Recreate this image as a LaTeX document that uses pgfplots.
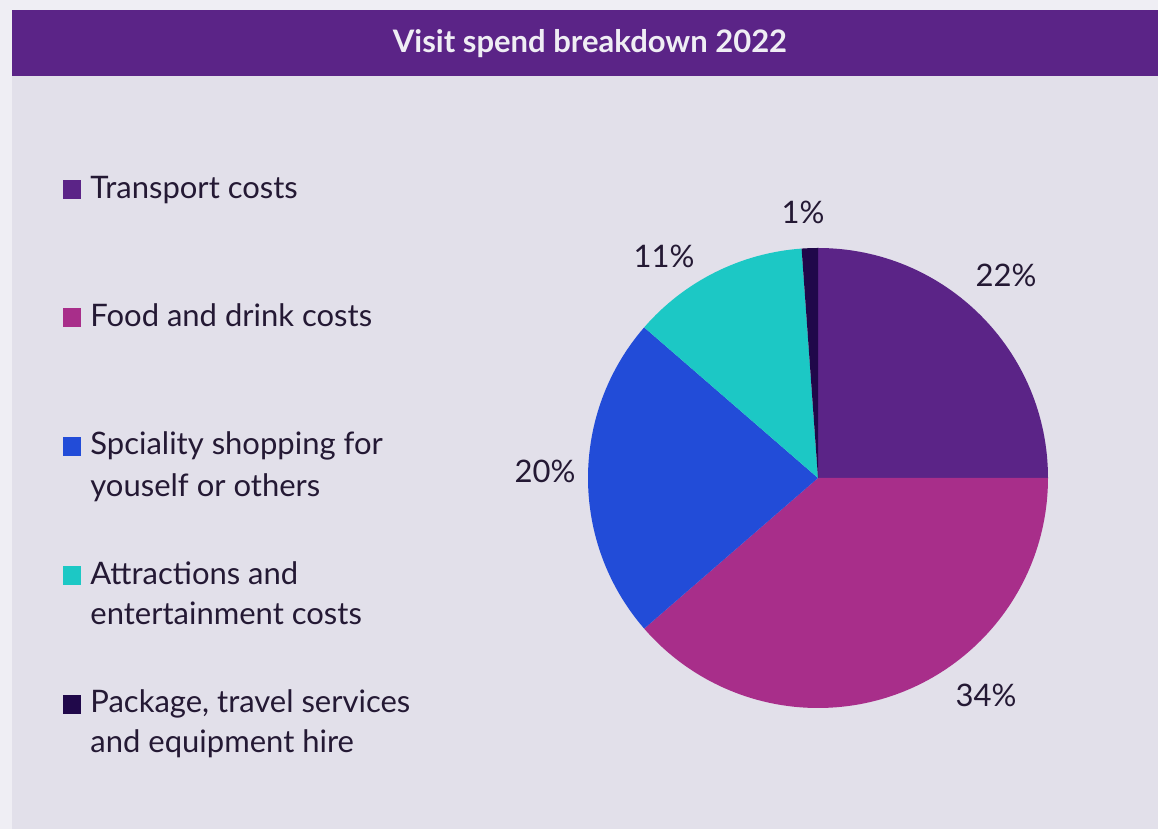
\documentclass[border=0pt]{standalone}
\usepackage{fontspec}
\setmainfont{Lato}
\usepackage{pgfplots}
\usepackage{pgfplotstable}
\pgfplotsset{compat=1.18}

\definecolor{outer}{HTML}{EFEEF4}
\definecolor{panel}{HTML}{E2E0EA}
\definecolor{titlebar}{HTML}{5B2487}
\definecolor{txt}{HTML}{241934}
\definecolor{transport}{HTML}{5B2487}
\definecolor{food}{HTML}{A82E8A}
\definecolor{shop}{HTML}{224CD8}
\definecolor{attract}{HTML}{1CC8C5}
\definecolor{package}{HTML}{20084A}

% shares as shown on the labels
\pgfplotstableread{
share col
22 transport
34 food
20 shop
11 attract
1 package
}\piedata

\newcommand\lab{\fontsize{15.5}{18}\selectfont\color{txt}}

\begin{document}
\begin{tikzpicture}
\begin{axis}[
    x=0.5pt, y=0.5pt,
    xmin=0, xmax=1158, ymin=0, ymax=829,
    scale only axis,
    axis lines=none,
    clip=false,
]
% background
\fill[outer] (axis cs:0,0) rectangle (axis cs:1158,829);
\fill[panel] (axis cs:12,0) rectangle (axis cs:1158,819);
\fill[titlebar] (axis cs:12,753) rectangle (axis cs:1158,819);
\node[anchor=base, inner sep=0, text=outer, font=\fontsize{15.5}{18}\selectfont\bfseries]
    at (axis cs:590,776) {Visit spend breakdown 2022};

% pie slices, clockwise from the top
\global\def\piecum{0}
\global\def\pietot{0}
\pgfplotsinvokeforeach{0,...,4}{
    \pgfplotstablegetelem{#1}{share}\of\piedata
    \pgfmathsetmacro\pietmp{\pietot+\pgfplotsretval}
    \global\let\pietot\pietmp
}
\pgfplotsinvokeforeach{0,...,4}{
    \pgfplotstablegetelem{#1}{share}\of\piedata \let\pieval\pgfplotsretval
    \pgfplotstablegetelem{#1}{col}\of\piedata \let\piecol\pgfplotsretval
    \pgfmathsetmacro\piea{90-360*(\piecum/\pietot)}
    \pgfmathsetmacro\pieb{90-360*((\piecum+\pieval)/\pietot)}
    \edef\temp{\noexpand\fill[\piecol] (axis cs:818,351) -- ++(\piea:115pt)
        arc[start angle=\piea, end angle=\pieb, radius=115pt] -- cycle;}
    \temp
    \pgfmathsetmacro\pietmp{\piecum+\pieval}
    \global\let\piecum\pietmp
}

% slice labels
\node[anchor=base, inner sep=0, font=\lab] at (axis cs:1006,542) {22\%};
\node[anchor=base, inner sep=0, font=\lab] at (axis cs:986,122) {34\%};
\node[anchor=base, inner sep=0, font=\lab] at (axis cs:545,346) {20\%};
\node[anchor=base, inner sep=0, font=\lab] at (axis cs:664,561) {11\%};
\node[anchor=base, inner sep=0, font=\lab] at (axis cs:803,605) {1\%};

% legend
\fill[transport] (axis cs:63,630) rectangle (axis cs:81,649);
\fill[food]      (axis cs:63,502) rectangle (axis cs:81,521);
\fill[shop]      (axis cs:63,373) rectangle (axis cs:81,392);
\fill[attract]   (axis cs:63,244) rectangle (axis cs:81,263);
\fill[package]   (axis cs:63,115) rectangle (axis cs:81,134);
\node[anchor=base west, inner sep=0, font=\lab] at (axis cs:90,630) {Transport costs};
\node[anchor=base west, inner sep=0, font=\lab] at (axis cs:90,502) {Food and drink costs};
\node[anchor=base west, inner sep=0, font=\lab] at (axis cs:90,374) {Spciality shopping for};
\node[anchor=base west, inner sep=0, font=\lab] at (axis cs:90,332) {youself or others};
\node[anchor=base west, inner sep=0, font=\lab] at (axis cs:90,244) {Attractions and};
\node[anchor=base west, inner sep=0, font=\lab] at (axis cs:90,204) {entertainment costs};
\node[anchor=base west, inner sep=0, font=\lab] at (axis cs:90,116) {Package, travel services};
\node[anchor=base west, inner sep=0, font=\lab] at (axis cs:90,76) {and equipment hire};
\end{axis}
\end{tikzpicture}
\end{document}
